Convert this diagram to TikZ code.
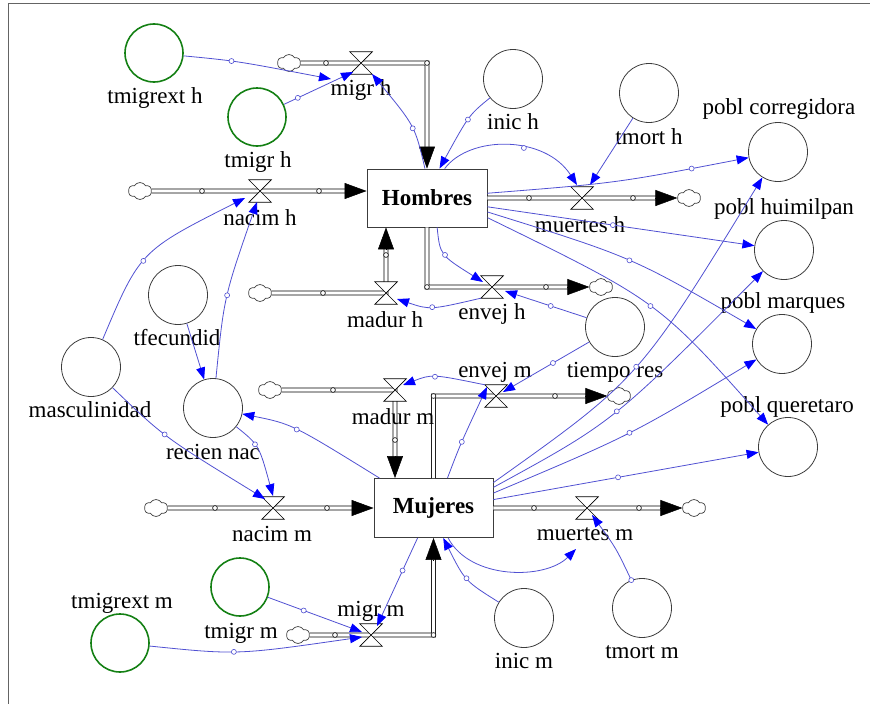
\documentclass[tikz,border=0pt]{standalone}
\usepackage{fontspec}
\setmainfont{Liberation Serif}
\usetikzlibrary{arrows.meta,shapes.symbols,calc}
\definecolor{linkc}{RGB}{80,80,210}
\definecolor{headc}{RGB}{0,0,255}
\definecolor{auxc}{RGB}{60,60,60}
\definecolor{grn}{RGB}{20,128,20}
\definecolor{framec}{RGB}{100,100,100}
\tikzset{
 lbl/.style={font=\fontsize{23}{26}\selectfont, inner sep=0pt},
 aux/.style={circle, draw=auxc, line width=0.8pt, minimum size=59pt, inner sep=0pt},
 gaux/.style={circle, draw=grn, line width=1.6pt, minimum size=58pt, inner sep=0pt},
 stock/.style={draw=auxc, line width=0.9pt, minimum width=120pt, minimum height=58pt, inner sep=0pt, font=\fontsize{23}{26}\selectfont\bfseries},
 valve/.style={minimum width=22pt, minimum height=22pt, inner sep=0pt},
 valvec/.style={draw=black, fill=white, line width=0.7pt, line join=miter},
 cloudy/.style={cloud, cloud puffs=6, cloud puff arc=120, draw=black!75, line width=0.7pt, minimum width=23pt, minimum height=17pt, inner sep=0pt},
 pipe/.style={draw=black, double=white, double distance=3.2pt, line width=0.8pt},
 pipetip/.style={-{Triangle[length=22pt,width=16pt]}, line width=0.5pt, black},
 conn/.style={draw=linkc, line width=0.8pt, -{Triangle[length=12pt,width=9pt,color=headc]}},
 mk/.style={circle, draw=linkc, fill=white, line width=0.6pt, minimum size=5pt, inner sep=0pt},
 pmk/.style={draw=black, fill=white, line width=0.6pt},
}
\begin{document}
\begin{tikzpicture}[x=1pt,y=-1pt]
\useasboundingbox (0,0) rectangle (870,704);
\draw[framec, line width=0.8pt] (8,704) -- (8,3) -- (870,3);

% stocks
\node[stock] (H) at (427,198) {Hombres};
\node[stock, minimum width=119pt, minimum height=59pt] (M) at (433.5,508) {Mujeres};

% valves
\node[valve] (migrh) at (361,63) {};
\node[valve] (nacimh) at (260,191) {};
\node[valve] (muertesh) at (582,198) {};
\node[valve] (envejh) at (492,287) {};
\node[valve] (madurh) at (386,293) {};
\node[valve] (envejm) at (496,396) {};
\node[valve] (madurm) at (395,390) {};
\node[valve] (nacimm) at (273,508) {};
\node[valve] (muertesm) at (587,508) {};
\node[valve] (migrm) at (371,635) {};

% clouds
\node[cloudy] (cl1) at (289,63) {};
\node[cloudy] (cl2) at (140,191) {};
\node[cloudy] (cl3) at (689,198) {};
\node[cloudy] (cl4) at (601,287) {};
\node[cloudy] (cl5) at (260,293) {};
\node[cloudy] (cl6) at (270,390) {};
\node[cloudy] (cl7) at (619,396) {};
\node[cloudy] (cl8) at (156,508) {};
\node[cloudy] (cl9) at (694,508) {};
\node[cloudy] (cl10) at (298,635) {};

% pipe corners
\coordinate (c1) at (H.north |- migrh);
\coordinate (Hnac) at (H.west |- nacimh);
\coordinate (c4) at (H.south |- envejh);
\coordinate (Hmad) at (madurh |- H.south);
\coordinate (c6) at (M.north |- envejm);
\coordinate (Mmad) at (madurm |- M.north);
\coordinate (c10) at (M.south |- migrm);

% pipes
\draw[pipe, shorten >=20pt] (cl1.east) -- (c1) -- (H.north);
\draw[pipetip] ($(H.north)+(0,-22)$) -- (H.north);
\draw[pipe, shorten >=20pt] (cl2.east) -- (Hnac);
\draw[pipetip] ($(Hnac)+(-22,0)$) -- (Hnac);
\draw[pipe, shorten >=20pt] (H.east) -- (cl3.west);
\draw[pipetip] ($(cl3.west)+(-22,0)$) -- (cl3.west);
\draw[pipe, shorten >=20pt] (H.south) -- (c4) -- (cl4.west);
\draw[pipetip] ($(cl4.west)+(-22,0)$) -- (cl4.west);
\draw[pipe, shorten >=20pt] (cl5.east) -- (madurh.center) -- (Hmad);
\draw[pipetip] ($(Hmad)+(0,22)$) -- (Hmad);
\draw[pipe, shorten >=20pt] (M.north) -- (c6) -- (cl7.west);
\draw[pipetip] ($(cl7.west)+(-22,0)$) -- (cl7.west);
\draw[pipe, shorten >=20pt] (cl6.east) -- (madurm.center) -- (Mmad);
\draw[pipetip] ($(Mmad)+(0,-22)$) -- (Mmad);
\draw[pipe, shorten >=20pt] (cl8.east) -- (M.west);
\draw[pipetip] ($(M.west)+(-22,0)$) -- (M.west);
\draw[pipe, shorten >=20pt] (M.east) -- (cl9.west);
\draw[pipetip] ($(cl9.west)+(-22,0)$) -- (cl9.west);
\draw[pipe, shorten >=20pt] (cl10.east) -- (c10) -- (M.south);
\draw[pipetip] ($(M.south)+(0,22)$) -- (M.south);

% pipe markers
\foreach \p in {(326,63),(c1),(202,191),(319,191),(529,198),(633,198),(c4),(546,287),
  (323,293),(386,255),(c6),(555,396),(333,390),(395,440),(215,508),(327,508),
  (534,508),(639,508),(335,635),(c10)}
  \draw[pmk] \p circle (2.4pt);

% valve glyphs
\foreach \v in {migrh,nacimh,muertesh,envejh,madurh,envejm,madurm,nacimm,muertesm,migrm}{
  \draw[valvec] (\v.north west) -- (\v.north east) -- (\v.center) -- cycle;
  \draw[valvec] (\v.south west) -- (\v.south east) -- (\v.center) -- cycle;
}

% auxiliaries
\node[gaux] (tmigrexth) at (154,53) {};
\node[gaux] (tmigrh) at (257,117) {};
\node[aux] (inich) at (513,79) {};
\node[aux] (tmorth) at (649,93) {};
\node[aux] (corr) at (778,152) {};
\node[aux] (huim) at (784,250) {};
\node[aux] (marq) at (782,344) {};
\node[aux] (quer) at (788,447) {};
\node[aux] (tiempo) at (615,327) {};
\node[aux] (tfec) at (178,295) {};
\node[aux] (recien) at (213,408) {};
\node[aux] (masc) at (91,367) {};
\node[gaux] (tmigrm) at (240,587) {};
\node[gaux] (tmigrextm) at (120,643) {};
\node[aux] (inicm) at (524,618) {};
\node[aux] (tmortm) at (642,608) {};

% labels
\node[lbl] (Ltmigrexth) at (155,98) {tmigrext h};
\node[lbl] (Ltmigrh) at (258,162) {tmigr h};
\node[lbl] (Lmigrh) at (361,90) {migr h};
\node[lbl] (Lnacimh) at (260,218) {nacim h};
\node[lbl] (Linich) at (513,122) {inic h};
\node[lbl] (Ltmorth) at (649,137) {tmort h};
\node[lbl] (Lcorr) at (779,109) {pobl corregidora};
\node[lbl] (Lmuertesh) at (580,225) {muertes h};
\node[lbl] (Lhuim) at (784,209) {pobl huimilpan};
\node[lbl] (Lmadurh) at (385,320) {madur h};
\node[lbl] (Lenvejh) at (492,314) {envej h};
\node[lbl] (Lmarq) at (783,303) {pobl marques};
\node[lbl] (Ltfec) at (177,338) {tfecundid};
\node[lbl] (Lmasc) at (90,410) {masculinidad};
\node[lbl] (Lrecien) at (213,452) {recien nac};
\node[lbl] (Lenvejm) at (495,372) {envej m};
\node[lbl] (Ltiempo) at (615,372) {tiempo res};
\node[lbl] (Lmadurm) at (393,417) {madur m};
\node[lbl] (Lquer) at (787,407) {pobl queretaro};
\node[lbl] (Lnacimm) at (272,534) {nacim m};
\node[lbl] (Lmuertesm) at (585,534) {muertes m};
\node[lbl] (Ltmigrextm) at (122,603) {tmigrext m};
\node[lbl] (Lmigrm) at (371,611) {migr m};
\node[lbl] (Ltmigrm) at (241,633) {tmigr m};
\node[lbl] (Linicm) at (524,661) {inic m};
\node[lbl] (Ltmortm) at (642,652) {tmort m};

% connector end points
\coordinate (migrhA) at (331,79);
\coordinate (migrhB) at (353,72);
\coordinate (migrhC) at (372,74);
\coordinate (nacimhA) at (245,198);
\coordinate (nacimhB) at (257,202);
\coordinate (muerteshA) at (577,185);
\coordinate (muerteshB) at (590,185);
\coordinate (envejhA) at (483,282);
\coordinate (envejhB) at (505,291);
\coordinate (madurhA) at (397,299);
\coordinate (envejmA) at (487,387);
\coordinate (envejmB) at (503,392);
\coordinate (madurmA) at (403,385);
\coordinate (nacimmA) at (265,499);
\coordinate (nacimmB) at (273,496);
\coordinate (muertesmA) at (576,549);
\coordinate (muertesmB) at (592,515);
\coordinate (migrmA) at (362,632);
\coordinate (migrmB) at (362,637);
\coordinate (migrmC) at (377,626);

% connectors
\draw[conn] (tmigrexth) .. controls (237,61) .. (migrhA) node[mk,pos=0.4] (k1) {};
\draw[conn] (tmigrh) -- (migrhB) node[mk,pos=0.2] (k2) {};
\draw[conn] (H.94) .. controls (415,126) .. (migrhC) node[mk,pos=0.45] (k3) {};
\draw[conn] (masc) .. controls (140,251) .. (nacimhA) node[mk,pos=0.45] (k4) {};
\draw[conn] (recien) .. controls (224,297) .. (nacimhB) node[mk,pos=0.5] (k5) {};
\draw[conn] (inich) .. controls (469,115) .. (H.67) node[mk,pos=0.5] (k6) {};
\draw[conn] (H.59) .. controls (470,135) and (545,135) .. (muerteshA) node[mk,pos=0.6] (k7) {};
\draw[conn] (tmorth) -- (muerteshB);
\draw[conn] (H) .. controls (617,183) .. (corr) node[mk,pos=0.83] (k9) {};
\draw[conn] (H) -- (huim) node[mk,pos=0.47] (k10) {};
\draw[conn] (H.-13) .. controls (632,257) .. (marq) node[mk,pos=0.5] (k11) {};
\draw[conn] (H.-18) .. controls (658,301) .. (quer) node[mk,pos=0.5] (k12) {};
\draw[conn] (H.-71) .. controls (440,255) .. (envejhA) node[mk,pos=0.5] (k13) {};
\draw[conn] (envejh.south west) .. controls (430,310) .. (madurhA) node[mk,pos=0.5] (k14) {};
\draw[conn] (tiempo) -- (envejhB) node[mk,pos=0.44] (k15) {};
\draw[conn] (tiempo) -- (envejmB) node[mk,pos=0.42] (k16) {};
\draw[conn] (tfec) -- (recien);
\draw[conn] (masc) .. controls (164,437) .. (nacimmA) node[mk,pos=0.45] (k18) {};
\draw[conn] (recien) .. controls (259,445) .. (nacimmB) node[mk,pos=0.4] (k19) {};
\draw[conn] (M.151) .. controls (292,424) .. (recien) node[mk,pos=0.5] (k20) {};
\draw[conn] (M.65) .. controls (460,445) .. (envejmA) node[mk,pos=0.5] (k21) {};
\draw[conn] (envejm.north west) .. controls (432,374) .. (madurmA) node[mk,pos=0.5] (k22) {};
\draw[conn] (M.23) .. controls (639,379) .. (corr) node[mk,pos=0.5] (k23) {};
\draw[conn] (M.19) .. controls (613,422) .. (huim) node[mk,pos=0.5] (k24) {};
\draw[conn] (M.14) .. controls (631,435) .. (marq) node[mk,pos=0.5] (k25) {};
\draw[conn] (M.8) -- (quer) node[mk,pos=0.47] (k26) {};
\draw[conn] (M.-64) .. controls (470,580) and (545,580) .. (muertesmA);
\draw[conn] (inicm) .. controls (465,581) .. (M.-72) node[mk,pos=0.5] (k28) {};
\draw[conn] (tmortm.111) .. controls (616,548) .. (muertesmB) node[mk,pos=0] (k29) {};
\draw[conn] (tmigrm) -- (migrmA) node[mk,pos=0.38] (k30) {};
\draw[conn] (tmigrextm) .. controls (237,655) .. (migrmB) node[mk,pos=0.45] (k31) {};
\draw[conn] (M.-118) -- (migrmC) node[mk,pos=0.37] (k32) {};
\end{tikzpicture}
\end{document}
